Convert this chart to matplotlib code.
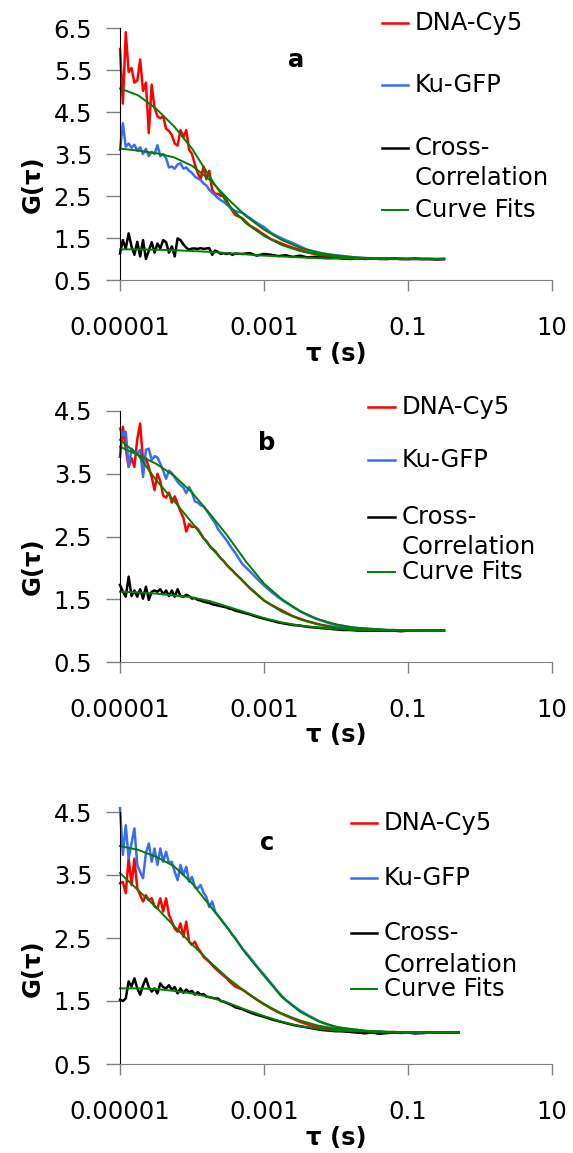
import matplotlib
matplotlib.use("Agg")
import matplotlib.pyplot as plt
import numpy as np
from matplotlib.lines import Line2D

# log10(tau) grid of the correlation data
LOG_TAU = [
    -5.00, -4.96, -4.92, -4.88, -4.84, -4.80, -4.76, -4.72, -4.68, -4.64,
    -4.60, -4.56, -4.52, -4.48, -4.44, -4.40, -4.36, -4.32, -4.28, -4.24,
    -4.20, -4.16, -4.12, -4.08, -4.04, -4.00, -3.96, -3.92, -3.88, -3.84,
    -3.80, -3.76, -3.72, -3.68, -3.64, -3.60, -3.56, -3.52, -3.48, -3.44,
    -3.40,
    -3.3, -3.2, -3.1, -3.0, -2.9, -2.8, -2.7, -2.6, -2.5, -2.4,
    -2.3, -2.2, -2.1, -2.0, -1.9, -1.8, -1.7, -1.6, -1.5, -1.4,
    -1.3, -1.2, -1.1, -1.0, -0.9, -0.8, -0.7, -0.6, -0.5,
]
LOG_TAU_C = LOG_TAU + [-0.4, -0.3]

# log10(tau) grid of the curve fits
FIT_LOG = [-5.0, -4.75, -4.5, -4.25, -4.0, -3.75, -3.5, -3.25, -3.0, -2.75,
           -2.5, -2.25, -2.0, -1.75, -1.5, -1.25, -1.0, -0.75, -0.5]
FIT_LOG_C = FIT_LOG + [-0.3]

# ---- panel a ----
A_RED = [
    6.00, 4.70, 6.40, 5.45, 5.55, 5.20, 5.25, 5.75, 5.00, 5.20,
    4.00, 5.15, 4.60, 4.40, 4.35, 4.40, 4.10, 4.05, 3.95, 3.75,
    3.70, 4.07, 3.90, 4.07, 3.60, 3.50, 3.25, 3.05, 2.90, 3.20,
    2.90, 3.10, 2.65, 2.55, 2.55, 2.50, 2.52, 2.40, 2.25, 2.15,
    2.05,
    1.97, 1.80, 1.70, 1.58, 1.47, 1.40, 1.33, 1.27, 1.22, 1.16,
    1.12, 1.08, 1.07, 1.05, 1.04, 1.03, 1.02, 1.02, 1.01, 1.01,
    1.00, 1.01, 1.00, 1.00, 1.00, 1.00, 1.00, 1.00, 1.00,
]
A_BLUE = [
    3.60, 4.23, 3.67, 3.75, 3.65, 3.72, 3.58, 3.66, 3.50, 3.62,
    3.45, 3.55, 3.50, 3.71, 3.45, 3.50, 3.40, 3.18, 3.20, 3.15,
    3.25, 3.28, 3.15, 3.18, 3.10, 3.05, 2.96, 2.92, 2.88, 2.80,
    2.75, 2.65, 2.58, 2.52, 2.45, 2.40, 2.36, 2.30, 2.25, 2.18,
    2.14,
    2.10, 1.98, 1.86, 1.76, 1.62, 1.53, 1.45, 1.38, 1.30, 1.22,
    1.18, 1.14, 1.11, 1.09, 1.07, 1.05, 1.03, 1.02, 1.02, 1.01,
    1.01, 1.00, 1.01, 1.00, 1.00, 1.00, 1.00, 1.00, 1.00,
]
A_CROSS = [
    1.13, 1.45, 1.25, 1.61, 1.30, 1.10, 1.41, 1.06, 1.45, 1.00,
    1.20, 1.40, 1.15, 1.37, 1.25, 1.45, 1.40, 1.15, 1.30, 1.06,
    1.49, 1.45, 1.35, 1.27, 1.22, 1.25, 1.25, 1.24, 1.26, 1.24,
    1.25, 1.26, 1.10, 1.20, 1.17, 1.12, 1.14, 1.12, 1.14, 1.10,
    1.13,
    1.12, 1.14, 1.08, 1.12, 1.10, 1.07, 1.09, 1.05, 1.08, 1.04,
    1.05, 1.03, 1.02, 1.03, 1.01, 1.00, 1.02, 1.00, 1.01, 1.00,
    1.00, 1.01, 1.00, 1.00, 1.01, 1.00, 1.00, 0.99, 1.00,
]
A_FIT_RED = [5.06, 4.90, 4.58, 4.16, 3.63, 2.95, 2.30, 1.85, 1.55, 1.33,
             1.19, 1.11, 1.06, 1.03, 1.02, 1.01, 1.00, 1.00, 1.00]
A_FIT_BLUE = [3.63, 3.58, 3.52, 3.42, 3.22, 2.88, 2.43, 2.02, 1.70, 1.45,
              1.27, 1.15, 1.08, 1.04, 1.02, 1.01, 1.00, 1.00, 1.00]
A_FIT_CROSS = [1.23, 1.23, 1.22, 1.21, 1.19, 1.17, 1.14, 1.11, 1.08, 1.06,
               1.04, 1.02, 1.01, 1.01, 1.00, 1.00, 1.00, 1.00, 1.00]

# ---- panel b ----
B_RED = [
    3.77, 4.25, 3.90, 3.61, 3.75, 3.61, 4.05, 4.30, 3.70, 3.75,
    3.60, 3.45, 3.24, 3.50, 3.38, 3.15, 3.12, 3.20, 3.04, 3.14,
    3.02, 2.90, 2.80, 2.58, 2.70, 2.65, 2.66, 2.62, 2.55, 2.47,
    2.43, 2.36, 2.31, 2.27, 2.21, 2.15, 2.11, 2.05, 2.00, 1.96,
    1.91,
    1.80, 1.68, 1.58, 1.48, 1.41, 1.35, 1.29, 1.23, 1.19, 1.15,
    1.12, 1.09, 1.07, 1.05, 1.04, 1.03, 1.02, 1.01, 1.01, 1.00,
    1.00, 1.00, 1.00, 1.00, 1.00, 1.00, 1.00, 1.00, 1.00,
]
B_BLUE = [
    4.22, 4.10, 4.17, 3.61, 3.90, 3.85, 3.82, 3.88, 3.45, 3.88,
    3.90, 3.72, 3.78, 3.76, 3.66, 3.55, 3.42, 3.55, 3.51, 3.44,
    3.37, 3.32, 3.28, 3.19, 3.29, 3.20, 3.06, 3.04, 3.00, 2.98,
    2.92, 2.85, 2.78, 2.72, 2.62, 2.56, 2.50, 2.44, 2.37, 2.30,
    2.24,
    2.06, 1.95, 1.83, 1.72, 1.62, 1.53, 1.45, 1.38, 1.31, 1.25,
    1.20, 1.16, 1.12, 1.09, 1.07, 1.05, 1.04, 1.03, 1.02, 1.02,
    1.01, 1.01, 1.00, 1.00, 1.00, 1.00, 1.00, 1.00, 1.00,
]
B_CROSS = [
    1.73, 1.62, 1.54, 1.86, 1.55, 1.64, 1.54, 1.66, 1.51, 1.70,
    1.49, 1.62, 1.64, 1.62, 1.66, 1.58, 1.64, 1.55, 1.64, 1.54,
    1.66, 1.55, 1.54, 1.57, 1.55, 1.51, 1.52, 1.49, 1.48, 1.46,
    1.45, 1.44, 1.42, 1.41, 1.40, 1.39, 1.38, 1.37, 1.35, 1.34,
    1.32,
    1.29, 1.26, 1.22, 1.19, 1.16, 1.13, 1.11, 1.09, 1.08, 1.06,
    1.05, 1.04, 1.03, 1.02, 1.01, 1.01, 1.00, 1.00, 1.00, 1.00,
    1.00, 1.00, 0.99, 1.00, 1.00, 1.00, 1.00, 1.00, 1.00,
]
B_FIT_RED = [4.04, 3.80, 3.40, 3.07, 2.72, 2.34, 2.03, 1.74, 1.48, 1.30,
             1.18, 1.10, 1.05, 1.03, 1.01, 1.01, 1.00, 1.00, 1.00]
B_FIT_BLUE = [3.93, 3.80, 3.66, 3.47, 3.20, 2.86, 2.50, 2.10, 1.75, 1.50,
              1.31, 1.18, 1.10, 1.05, 1.03, 1.01, 1.01, 1.00, 1.00]
B_FIT_CROSS = [1.62, 1.61, 1.59, 1.56, 1.53, 1.47, 1.38, 1.29, 1.20, 1.13,
               1.08, 1.05, 1.03, 1.01, 1.01, 1.00, 1.00, 1.00, 1.00]

# ---- panel c ----
C_RED = [
    3.37, 3.39, 3.21, 3.76, 3.34, 3.76, 3.29, 3.18, 3.08, 3.18,
    3.10, 3.13, 3.00, 2.97, 3.13, 2.92, 3.13, 2.87, 2.76, 2.65,
    2.60, 2.73, 2.52, 2.76, 2.44, 2.39, 2.44, 2.34, 2.28, 2.20,
    2.16, 2.12, 2.07, 2.02, 1.98, 1.94, 1.90, 1.86, 1.81, 1.77,
    1.73,
    1.68, 1.60, 1.52, 1.45, 1.38, 1.32, 1.27, 1.22, 1.17, 1.13,
    1.10, 1.07, 1.06, 1.04, 1.02, 1.01, 1.00, 0.99, 1.00, 0.99,
    1.00, 1.01, 1.00, 1.00, 1.00, 0.99, 1.00, 1.00, 1.00, 1.00, 1.00,
]
C_BLUE = [
    4.56, 3.82, 4.29, 3.76, 4.00, 4.24, 3.66, 3.55, 3.45, 3.85,
    4.00, 3.71, 3.92, 3.66, 3.92, 3.71, 3.87, 3.69, 3.71, 3.55,
    3.42, 3.66, 3.50, 3.63, 3.39, 3.47, 3.31, 3.29, 3.34, 3.22,
    3.15, 2.99, 3.08, 2.92, 2.86, 2.80, 2.74, 2.68, 2.62, 2.55,
    2.50,
    2.33, 2.20, 2.05, 1.92, 1.78, 1.64, 1.52, 1.43, 1.35, 1.28,
    1.22, 1.16, 1.12, 1.09, 1.06, 1.05, 1.04, 1.02, 1.01, 1.02,
    1.00, 1.00, 0.99, 1.00, 0.98, 0.99, 1.00, 1.00, 1.00, 1.00, 1.00,
]
C_CROSS = [
    1.52, 1.50, 1.54, 1.81, 1.73, 1.86, 1.70, 1.60, 1.75, 1.86,
    1.72, 1.65, 1.70, 1.62, 1.78, 1.72, 1.70, 1.75, 1.68, 1.72,
    1.62, 1.70, 1.63, 1.68, 1.64, 1.66, 1.60, 1.64, 1.60, 1.61,
    1.57, 1.56, 1.55, 1.54, 1.54, 1.50, 1.49, 1.47, 1.45, 1.43,
    1.40,
    1.37, 1.32, 1.28, 1.25, 1.21, 1.18, 1.15, 1.12, 1.10, 1.08,
    1.06, 1.04, 1.03, 1.02, 1.02, 1.01, 1.00, 0.99, 1.00, 0.98,
    0.99, 1.00, 1.00, 1.00, 0.99, 1.00, 1.00, 1.00, 1.00, 1.00, 1.00,
]
C_FIT_RED = [3.53, 3.26, 2.99, 2.69, 2.40, 2.12, 1.86, 1.64, 1.45, 1.30,
             1.19, 1.11, 1.06, 1.03, 1.02, 1.01, 1.00, 1.00, 1.00, 1.00]
C_FIT_BLUE = [3.96, 3.90, 3.79, 3.64, 3.37, 3.01, 2.65, 2.25, 1.90, 1.56,
              1.33, 1.18, 1.09, 1.05, 1.02, 1.01, 1.00, 1.00, 1.00, 1.00]
C_FIT_CROSS = [1.70, 1.70, 1.69, 1.66, 1.62, 1.56, 1.47, 1.36, 1.26, 1.17,
               1.10, 1.06, 1.03, 1.02, 1.01, 1.00, 1.00, 1.00, 1.00, 1.00]

Y_TICKS_A = [0.5, 1.5, 2.5, 3.5, 4.5, 5.5, 6.5]
Y_TICKS_BC = [0.5, 1.5, 2.5, 3.5, 4.5]
X_TICKS = [1e-5, 1e-3, 1e-1, 10]
X_TICK_LABELS = ["0.00001", "0.001", "0.1", "10"]
LEGEND_LABELS = ["DNA-Cy5", "Ku-GFP", "Cross-\nCorrelation", "Curve Fits"]

RED = "#ff0000"
BLUE = "#3a6cf4"
BLACK = "#000000"
GREEN = "#008000"
GRAY = "#808080"

W, H = 573, 1153
FS = 17.5

plt.rcParams["font.family"] = ["DejaVu Sans"]

fig = plt.figure(figsize=(W / 100, H / 100), dpi=100)


def fx(x):
    return x / W


def fy(y):
    return 1 - y / H


def draw_panel(rect, log_tau, red, blue, cross, fit_log, fits, yticks, letter, letter_xy):
    ax = fig.add_axes(rect)
    tau = 10 ** np.array(log_tau)
    ftau = 10 ** np.array(fit_log)
    ax.plot(tau, red, color=RED, lw=1.8, clip_on=False)
    ax.plot(tau, blue, color=BLUE, lw=1.8, clip_on=False)
    ax.plot(tau, cross, color=BLACK, lw=1.8, clip_on=False)
    for f in fits:
        ax.plot(ftau, f, color=GREEN, lw=1.4, clip_on=False)

    ax.set_xscale("log")
    ax.set_xlim(1e-5, 10)
    ax.set_ylim(yticks[0], yticks[-1])
    ax.set_xticks(X_TICKS)
    ax.set_xticklabels(X_TICK_LABELS)
    ax.minorticks_off()
    ax.set_yticks(yticks)
    ax.set_yticklabels([f"{t:.1f}" for t in yticks])

    for s in ["top", "right"]:
        ax.spines[s].set_visible(False)
    ax.spines["left"].set_color(BLACK)
    ax.spines["bottom"].set_color(GRAY)
    ax.tick_params(axis="y", direction="out", length=10, width=1, color=GRAY,
                   labelsize=FS, pad=10)
    ax.tick_params(axis="x", direction="out", length=8, width=1, color=GRAY,
                   labelsize=FS, pad=18)

    ax.set_xlabel("\u03c4 (s)", fontsize=FS, fontweight="bold")
    ax.set_ylabel("G(\u03c4)", fontsize=FS, fontweight="bold")
    ax.xaxis.set_label_coords(0.5, -0.245)
    ax.yaxis.set_label_coords(-0.175, 0.38)

    fig.text(fx(letter_xy[0]), fy(letter_xy[1]), letter, fontsize=FS,
             fontweight="bold", ha="center", va="center")
    return ax


def draw_legend(x0, x1, xt, ys, y_corr):
    colors = [RED, BLUE, BLACK, GREEN]
    widths = [1.8, 1.8, 1.8, 1.4]
    for lab, col, lw, y in zip(LEGEND_LABELS, colors, widths, ys):
        fig.add_artist(Line2D([fx(x0), fx(x1)], [fy(y), fy(y)], color=col, lw=lw,
                              transform=fig.transFigure))
        lines = lab.split("\n")
        fig.text(fx(xt), fy(y), lines[0], fontsize=FS, ha="left", va="center")
        if len(lines) > 1:
            fig.text(fx(xt), fy(y_corr), lines[1], fontsize=FS, ha="left", va="center")


draw_panel([fx(120), fy(280), 432 / W, 252 / H], LOG_TAU, A_RED, A_BLUE, A_CROSS,
           FIT_LOG, [A_FIT_RED, A_FIT_BLUE, A_FIT_CROSS], Y_TICKS_A, "a", (296, 60))
draw_legend(382, 408, 415, [23, 85, 148, 210], 178)

draw_panel([fx(120), fy(662), 432 / W, 251 / H], LOG_TAU, B_RED, B_BLUE, B_CROSS,
           FIT_LOG, [B_FIT_RED, B_FIT_BLUE, B_FIT_CROSS], Y_TICKS_BC, "b", (267, 443))
draw_legend(368, 395, 402, [407, 460, 517, 572], 547)

draw_panel([fx(120), fy(1064), 432 / W, 252 / H], LOG_TAU_C, C_RED, C_BLUE, C_CROSS,
           FIT_LOG_C, [C_FIT_RED, C_FIT_BLUE, C_FIT_CROSS], Y_TICKS_BC, "c", (267, 843))
draw_legend(351, 377, 384, [823, 878, 933, 989], 965)

fig.savefig("out.png", dpi=100)
